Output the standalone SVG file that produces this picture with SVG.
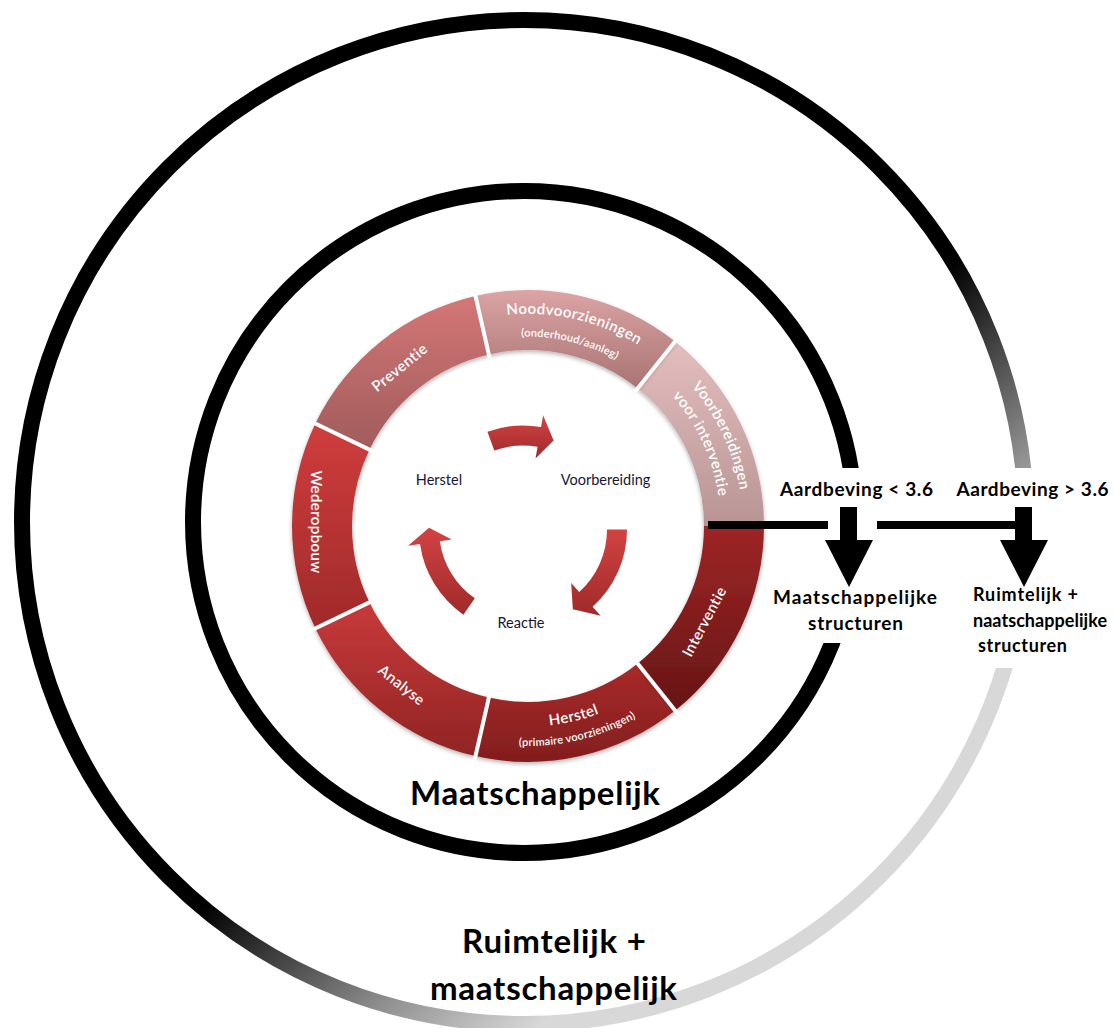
<svg xmlns="http://www.w3.org/2000/svg" width="1115" height="1028" viewBox="0 0 1115 1028">
<style>
  .seg { font-family: Lato, "Liberation Sans", sans-serif; fill: #ffffff; font-size: 15px; font-weight: 600; letter-spacing: 0.4px; }
  .sub { font-size: 11px; letter-spacing: 0.2px; }
  .cyc { font-family: Lato, "Liberation Sans", sans-serif; fill: #15153a; font-size: 14.5px; text-anchor: middle; }
  .bold { font-family: Lato, "Liberation Sans", sans-serif; font-weight: 700; fill: #000000; text-anchor: middle; }
  .gapline { stroke: #ffffff; stroke-width: 4; }
  .blk { fill: #000000; }
  .cyclearrow { fill: url(#gArrow); }
  .segshape { filter: url(#shadow); }
</style>
<defs>
  <filter id="shadow" x="-10%" y="-10%" width="120%" height="130%">
    <feDropShadow dx="0" dy="2" stdDeviation="2" flood-color="#000000" flood-opacity="0.3"/>
  </filter>
  <linearGradient id="gOuter" gradientUnits="userSpaceOnUse" x1="534.2" y1="622.1" x2="742.7" y2="864.9">
    <stop offset="0" stop-color="#000000"/>
    <stop offset="0.603" stop-color="#909090"/>
    <stop offset="0.969" stop-color="#d8d8d8"/>
    <stop offset="1" stop-color="#d8d8d8"/>
  </linearGradient>
  <linearGradient id="gNood" x1="0" y1="0" x2="0" y2="1"><stop offset="0" stop-color="#dca4a4"/><stop offset="1" stop-color="#a87373"/></linearGradient>
  <linearGradient id="gVoor" x1="0" y1="0" x2="0" y2="1"><stop offset="0" stop-color="#e4bebe"/><stop offset="1" stop-color="#b89494"/></linearGradient>
  <linearGradient id="gPrev" x1="0" y1="0" x2="0" y2="1"><stop offset="0" stop-color="#d47676"/><stop offset="1" stop-color="#a05c5c"/></linearGradient>
  <linearGradient id="gWeder" x1="0" y1="0" x2="0" y2="1"><stop offset="0" stop-color="#d03d3d"/><stop offset="1" stop-color="#a02a2a"/></linearGradient>
  <linearGradient id="gAnal" x1="0" y1="0" x2="0" y2="1"><stop offset="0" stop-color="#c93a3a"/><stop offset="1" stop-color="#912424"/></linearGradient>
  <linearGradient id="gHerst" x1="0" y1="0" x2="0" y2="1"><stop offset="0" stop-color="#a92a2a"/><stop offset="1" stop-color="#821e1e"/></linearGradient>
  <linearGradient id="gInter" x1="0" y1="0" x2="0" y2="1"><stop offset="0" stop-color="#9e2525"/><stop offset="1" stop-color="#661616"/></linearGradient>
  <linearGradient id="gArrow" x1="0" y1="0" x2="0" y2="1"><stop offset="0" stop-color="#d24343"/><stop offset="1" stop-color="#a02a2a"/></linearGradient>
  <clipPath id="clipInner"><path clip-rule="evenodd" d="M0 0H1115V1028H0Z M780 468H1115V643H780Z"/></clipPath>
  <clipPath id="clipOuter"><path clip-rule="evenodd" d="M0 0H1115V1028H0Z M900 468H1115V668H900Z"/></clipPath>
  <path id="pNood" d="M414.94,346.50 A212,212 0 0 1 707.52,413.22"/>
  <path id="pNoodSub" d="M428.51,364.27 A187,187 0 0 1 686.34,426.52"/>
  <path id="pVoor" d="M601.53,323.97 A215,215 0 0 1 730.03,599.53"/>
  <path id="pVoorSub" d="M593.33,342.76 A191,191 0 0 1 707.48,591.33"/>
  <path id="pHerst" d="M423.23,696.95 A200.5,200.5 0 0 0 698.95,630.77"/>
  <path id="pHerstSub" d="M413.05,713.58 A220,220 0 0 0 715.58,640.95"/>
</defs>

<rect width="1115" height="1028" fill="#ffffff"/>

<g id="outer-circle">
  <circle cx="524" cy="522" r="502" fill="none" stroke="url(#gOuter)" stroke-width="16" clip-path="url(#clipOuter)"/>
</g>
<g id="inner-circle">
  <circle cx="524" cy="522" r="331" fill="none" stroke="#000000" stroke-width="16" clip-path="url(#clipInner)"/>
</g>

<g id="seg-voorbereidingen">
  <path class="segshape" d="M764,526 A236,236 0 0 0 675.14,341.49 L637.73,388.40 A176,176 0 0 1 704,526 Z" fill="url(#gVoor)"/>
  <text class="seg"><textPath href="#pVoor" startOffset="50%" text-anchor="middle">Voorbereidingen</textPath></text>
  <text class="seg"><textPath href="#pVoorSub" startOffset="50%" text-anchor="middle">voor interventie</textPath></text>
</g>
<g id="seg-noodvoorzieningen">
  <path class="segshape" d="M675.14,341.49 A236,236 0 0 0 475.49,295.92 L488.84,354.41 A176,176 0 0 1 637.73,388.40 Z" fill="url(#gNood)"/>
  <text class="seg"><textPath href="#pNood" startOffset="50%" text-anchor="middle">Noodvoorzieningen</textPath></text>
  <text class="seg sub"><textPath href="#pNoodSub" startOffset="50%" text-anchor="middle">(onderhoud/aanleg)</textPath></text>
</g>
<g id="seg-preventie">
  <path class="segshape" d="M475.49,295.92 A236,236 0 0 0 315.37,423.60 L369.43,449.64 A176,176 0 0 1 488.84,354.41 Z" fill="url(#gPrev)"/>
  <text class="seg" text-anchor="middle" transform="translate(399.6,367.5) rotate(-39)" dy="0.35em">Preventie</text>
</g>
<g id="seg-wederopbouw">
  <path class="segshape" d="M315.37,423.60 A236,236 0 0 0 315.37,628.40 L369.43,602.36 A176,176 0 0 1 369.43,449.64 Z" fill="url(#gWeder)"/>
  <text class="seg" text-anchor="middle" transform="translate(316,522) rotate(90)" dy="0.35em">Wederopbouw</text>
</g>
<g id="seg-analyse">
  <path class="segshape" d="M315.37,628.40 A236,236 0 0 0 475.49,756.08 L488.84,697.59 A176,176 0 0 1 369.43,602.36 Z" fill="url(#gAnal)"/>
  <text class="seg" text-anchor="middle" transform="translate(401.7,685) rotate(38.5)" dy="0.35em">Analyse</text>
</g>
<g id="seg-herstel">
  <path class="segshape" d="M475.49,756.08 A236,236 0 0 0 675.14,710.51 L637.73,663.60 A176,176 0 0 1 488.84,697.59 Z" fill="url(#gHerst)"/>
  <text class="seg"><textPath href="#pHerst" startOffset="50%" text-anchor="middle">Herstel</textPath></text>
  <text class="seg sub"><textPath href="#pHerstSub" startOffset="50%" text-anchor="middle">(primaire voorzieningen)</textPath></text>
</g>
<g id="seg-interventie">
  <path class="segshape" d="M675.14,710.51 A236,236 0 0 0 764,526 L704,526 A176,176 0 0 1 637.73,663.60 Z" fill="url(#gInter)"/>
  <text class="seg" text-anchor="middle" transform="translate(704.3,621.7) rotate(-62)" dy="0.35em">Interventie</text>
</g>
<g id="ring-gaps">
  <line class="gapline" x1="635.24" y1="391.53" x2="678.88" y2="336.80"/>
  <line class="gapline" x1="489.73" y1="358.31" x2="474.15" y2="290.07"/>
  <line class="gapline" x1="373.03" y1="451.37" x2="309.97" y2="421.00"/>
  <line class="gapline" x1="373.03" y1="600.63" x2="309.97" y2="631.00"/>
  <line class="gapline" x1="489.73" y1="693.69" x2="474.15" y2="761.93"/>
  <line class="gapline" x1="635.24" y1="660.47" x2="678.88" y2="715.20"/>
</g>

<g id="cycle-herstel"><text class="cyc" x="439" y="485">Herstel</text></g>
<g id="cycle-voorbereiding"><text class="cyc" x="605.5" y="485">Voorbereiding</text></g>
<g id="cycle-reactie"><text class="cyc" x="521" y="628">Reactie</text></g>

<g id="connectors">
  <path class="cyclearrow" d="M487.43,431.77 A104,104 0 0 1 541.06,427.08 L543.14,415.26 L553.60,440.62 L535.50,458.59 L537.59,446.78 A84,84 0 0 0 494.27,450.57 Z"/>
  <path class="cyclearrow" d="M627,529.5 A104,104 0 0 1 592.59,606.79 L600.62,615.70 L572.81,609.22 L571.18,583.01 L579.21,591.92 A84,84 0 0 0 607,529.5 Z"/>
  <path class="cyclearrow" d="M463.35,614.69 A104,104 0 0 1 420.01,543.97 L408.13,545.64 L429.01,527.86 L451.70,539.52 L439.82,541.19 A84,84 0 0 0 474.82,598.31 Z"/>
  <rect class="blk" x="708" y="521" width="120" height="8"/>
  <rect class="blk" x="877" y="521" width="140" height="8"/>
  <polygon class="blk" points="840,507 857,507 857,540 873,540 849,587 825,540 840,540"/>
  <polygon class="blk" points="1015,507 1032,507 1032,540 1048,540 1024,587 1000,540 1015,540"/>
</g>

<g id="label-aardbeving-laag">
  <text class="bold" x="856.5" y="496" font-size="19" textLength="153">Aardbeving &lt; 3.6</text>
</g>
<g id="label-aardbeving-hoog">
  <text class="bold" x="1032.5" y="496" font-size="19" textLength="152">Aardbeving &gt; 3.6</text>
</g>
<g id="label-maatschappelijke-structuren">
  <text class="bold" x="855" y="604" font-size="19" textLength="164">Maatschappelijke</text>
  <text class="bold" x="855.5" y="630" font-size="19" textLength="95">structuren</text>
</g>
<g id="label-ruimtelijk-structuren">
  <text class="bold" x="1025.5" y="601" font-size="18" textLength="105">Ruimtelijk +</text>
  <text class="bold" x="1040" y="627" font-size="18" textLength="134">naatschappelijke</text>
  <text class="bold" x="1022.5" y="652" font-size="18" textLength="89">structuren</text>
</g>
<g id="label-maatschappelijk">
  <text class="bold" x="535" y="805" font-size="33" textLength="250">Maatschappelijk</text>
</g>
<g id="label-ruimtelijk-maatschappelijk">
  <text class="bold" x="554" y="953" font-size="33" textLength="184">Ruimtelijk +</text>
  <text class="bold" x="553.5" y="1000" font-size="33" textLength="247">maatschappelijk</text>
</g>
</svg>
